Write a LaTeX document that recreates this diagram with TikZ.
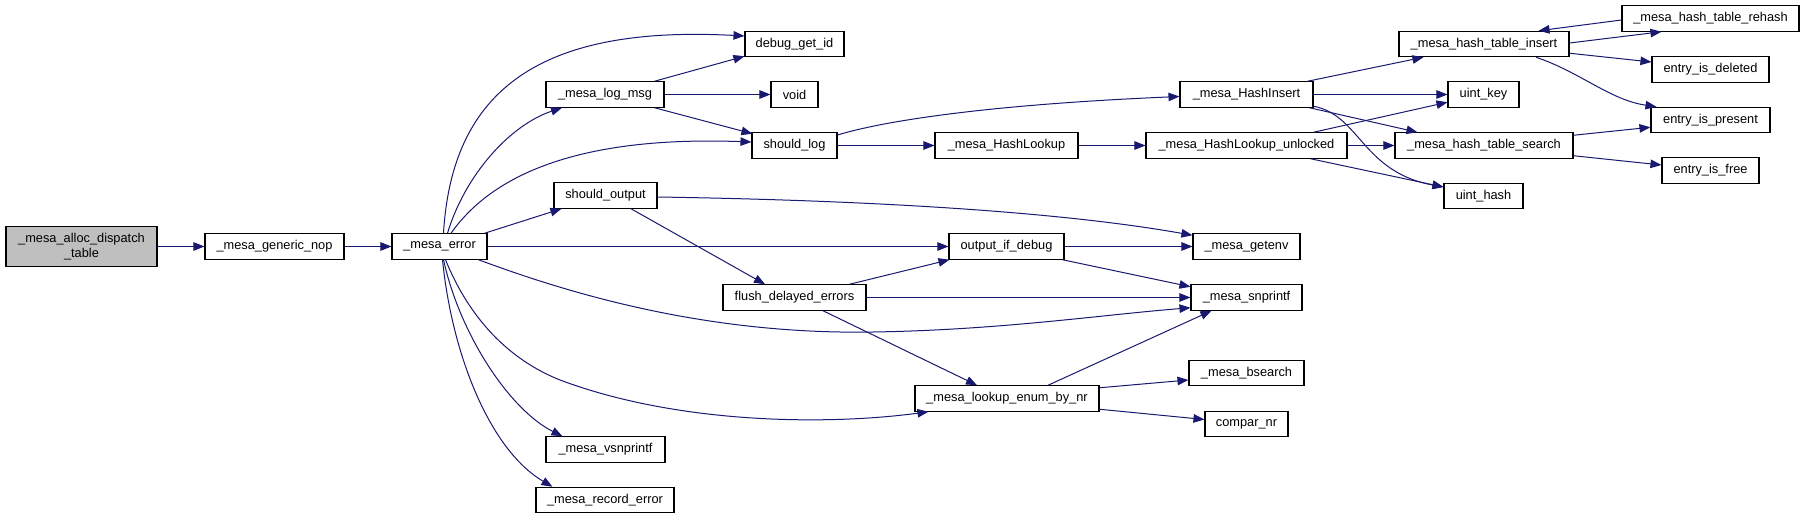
\documentclass[tikz,border=0pt]{standalone}
\usepackage{fontspec}
\setmainfont{Liberation Sans}
\usetikzlibrary{arrows.meta,calc}
\definecolor{edgec}{HTML}{191970}
\definecolor{rootfill}{HTML}{BFBFBF}
\begin{document}
\begin{tikzpicture}[x=1pt,y=-1pt,
  box/.style={draw=black, line width=1.1pt, fill=white, rectangle, inner sep=0pt,
    minimum height=25.4pt, font=\fontsize{12.8}{14.3}\selectfont, anchor=center},
  e/.style={draw=edgec, line width=1pt, -{Triangle[length=11pt,width=8.5pt]}}]
\useasboundingbox[fill=white] (0,0) rectangle (1805,519);
% nodes
\node[box, minimum width=151pt, minimum height=40pt, fill=rootfill, align=center] (alloc) at (81.5,246.5) {\_mesa\_alloc\_dispatch\\\_table};
\node[box, minimum width=139pt] (nop) at (274.5,246.5) {\_mesa\_generic\_nop};
\node[box, minimum width=95pt] (err) at (439.5,246.5) {\_mesa\_error};
\node[box, minimum width=99pt] (debug) at (794.5,44) {debug\_get\_id};
\node[box, minimum width=118pt] (logmsg) at (605,94.5) {\_mesa\_log\_msg};
\node[box, minimum width=47pt] (void) at (794.5,94.5) {void};
\node[box, minimum width=85pt] (shouldlog) at (794.5,145.5) {should\_log};
\node[box, minimum width=103pt] (shouldout) at (605.5,195.5) {should\_output};
\node[box, minimum width=115pt] (outdbg) at (1006.5,246.5) {output\_if\_debug};
\node[box, minimum width=143pt] (flush) at (794.5,297.5) {flush\_delayed\_errors};
\node[box, minimum width=184pt] (lookup) at (1007,398.5) {\_mesa\_lookup\_enum\_by\_nr};
\node[box, minimum width=119pt] (vsn) at (605.5,449.5) {\_mesa\_vsnprintf};
\node[box, minimum width=138pt] (rec) at (605,500) {\_mesa\_record\_error};
\node[box, minimum width=143pt] (hlookup) at (1006.5,145.5) {\_mesa\_HashLookup};
\node[box, minimum width=133pt] (hinsert) at (1246.5,94.5) {\_mesa\_HashInsert};
\node[box, minimum width=201pt] (unlocked) at (1246.5,145.5) {\_mesa\_HashLookup\_unlocked};
\node[box, minimum width=107pt] (getenv) at (1246.5,246.5) {\_mesa\_getenv};
\node[box, minimum width=111pt] (snprintf) at (1246.5,297.5) {\_mesa\_snprintf};
\node[box, minimum width=115pt] (bsearch) at (1246.5,373) {\_mesa\_bsearch};
\node[box, minimum width=83pt] (compar) at (1246.5,424) {compar\_nr};
\node[box, minimum width=170pt] (tinsert) at (1484,44) {\_mesa\_hash\_table\_insert};
\node[box, minimum width=71pt] (ukey) at (1483.5,94.5) {uint\_key};
\node[box, minimum width=178pt] (tsearch) at (1484,145.5) {\_mesa\_hash\_table\_search};
\node[box, minimum width=79pt] (uhash) at (1483.5,196) {uint\_hash};
\node[box, minimum width=177pt] (rehash) at (1710.5,18.5) {\_mesa\_hash\_table\_rehash};
\node[box, minimum width=117pt] (deleted) at (1710.5,69.5) {entry\_is\_deleted};
\node[box, minimum width=119pt] (present) at (1710.5,120) {entry\_is\_present};
\node[box, minimum width=97pt] (free) at (1710.5,170.5) {entry\_is\_free};
% edges
\draw[e] (alloc.east) -- (nop.west);
\draw[e] (nop.east) -- (err.west);
\draw[e] ($(err.north)+(4,0)$) .. controls (452,90) and (540,25) .. ($(debug.west)+(0,-8)$);
\draw[e] ($(err.north)+(8,0)$) .. controls (465,175) and (510,125) .. ($(logmsg.south)+(-43,0)$);
\draw[e] ($(err.north)+(11.5,0)$) .. controls (485,185) and (560,135) .. ($(shouldlog.west)+(0,-3.5)$);
\draw[e] ($(err.north east)+(-3,0)$) -- ($(shouldout.south west)+(8,0)$);
\draw[e] (err.east) -- (outdbg.west);
\draw[e] ($(err.south east)+(-9,0)$) .. controls (560,290) and (700,335) .. (873,332) .. controls (1000,330) and (1100,315) .. ($(snprintf.south west)+(0,-3)$);
\draw[e] ($(err.south)+(6,0)$) .. controls (470,320) and (510,360) .. (560,380) .. controls (680,425) and (830,425) .. ($(lookup.south west)+(14,0)$);
\draw[e] ($(err.south)+(4,0)$) .. controls (460,335) and (510,410) .. ($(vsn.north west)+(17,0)$);
\draw[e] ($(err.south)+(3,0)$) .. controls (452,355) and (490,450) .. ($(rec.north west)+(17,0)$);
\draw[e] ($(logmsg.north east)+(-10,0)$) -- ($(debug.south west)+(0,-1)$);
\draw[e] (logmsg.east) -- (void.west);
\draw[e] ($(logmsg.south east)+(-10,0)$) -- ($(shouldlog.north west)+(1,1.5)$);
\draw[e] ($(shouldlog.east)+(0,-10.5)$) .. controls (880,122) and (980,105) .. ($(hinsert.west)+(0,2)$);
\draw[e] (shouldlog.east) -- (hlookup.west);
\draw[e] ($(shouldout.east)+(0,1.5)$) .. controls (850,200) and (1050,210) .. ($(getenv.north west)+(0,2)$);
\draw[e] ($(shouldout.south)+(25.5,0)$) -- ($(flush.north)+(-29.5,0)$);
\draw[e] ($(flush.north)+(55,0)$) -- ($(outdbg.south west)+(1,0)$);
\draw[e] (flush.east) -- (snprintf.west);
\draw[e] ($(flush.south)+(28.5,0)$) -- ($(lookup.north)+(-30,0)$);
\draw[e] (outdbg.east) -- (getenv.west);
\draw[e] ($(outdbg.south east)+(-2,0)$) -- ($(snprintf.north west)+(0,2.5)$);
\draw[e] ($(lookup.north)+(41,0)$) -- ($(snprintf.south west)+(21,0)$);
\draw[e] ($(lookup.north east)+(0,2.5)$) -- ($(bsearch.west)+(0,7)$);
\draw[e] ($(lookup.south east)+(0,-2.5)$) -- ($(compar.west)+(0,-4.5)$);
\draw[e] (hlookup.east) -- (unlocked.west);
\draw[e] ($(hinsert.north east)+(-6,0)$) -- ($(tinsert.south west)+(25,0)$);
\draw[e] (hinsert.east) -- (ukey.west);
\draw[e] ($(hinsert.south east)+(-4,0)$) -- ($(tsearch.north west)+(23,0)$);
\draw[e] ($(hinsert.south east)+(0,-1.5)$) .. controls (1360,115) and (1362,172) .. ($(uhash.west)+(0,-9)$);
\draw[e] ($(unlocked.north east)+(-34,0)$) -- ($(ukey.south west)+(0,-5.5)$);
\draw[e] (unlocked.east) -- (tsearch.west);
\draw[e] ($(unlocked.south east)+(-37,0)$) -- ($(uhash.west)+(0,-9)$);
\draw[e] ($(tinsert.east)+(0,-1)$) -- ($(rehash.south west)+(40,0)$);
\draw[e] ($(rehash.west)+(0,1.5)$) -- ($(tinsert.north east)+(-31,0)$);
\draw[e] ($(tinsert.south east)+(0,-4)$) -- ($(deleted.west)+(0,-7.5)$);
\draw[e] ($(tinsert.south)+(52,0)$) .. controls (1580,72) and (1610,100) .. ($(present.north west)+(6,0)$);
\draw[e] ($(tsearch.north east)+(0,3)$) -- ($(present.south west)+(0,-6)$);
\draw[e] ($(tsearch.south east)+(0,-3)$) -- ($(free.west)+(0,-5.5)$);
\end{tikzpicture}
\end{document}
